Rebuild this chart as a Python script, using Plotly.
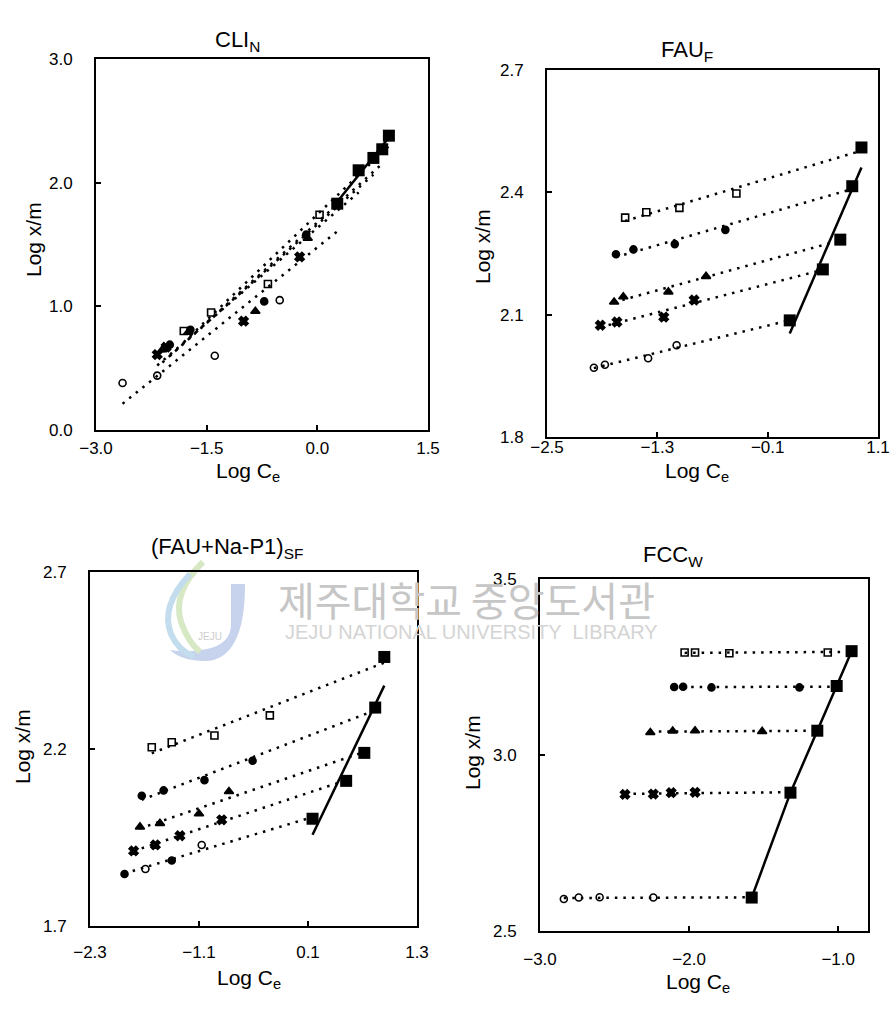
import numpy as np
import plotly.graph_objects as go

# Freundlich isotherms: log x/m versus log Ce for four adsorbents.
# Series order in every panel: open square, filled circle, triangle, cross, open circle.
# The last point of each series (filled square) is listed separately.

# ---- CLI_N ----
cli_logc = [
    [-1.81, -1.44, -0.67, 0.03],
    [-2.00, -1.72, -0.72, -0.15],
    [-2.10, -1.75, -0.84, -0.13],
    [-2.17, -2.05, -1.00, -0.24],
    [-2.64, -2.17, -1.39, -0.51],
]
cli_logxm = [
    [0.80, 0.95, 1.18, 1.74],
    [0.69, 0.81, 1.04, 1.58],
    [0.65, 0.79, 0.96, 1.55],
    [0.61, 0.67, 0.88, 1.40],
    [0.38, 0.44, 0.60, 1.05],
]
cli_end_logc = [0.97, 0.88, 0.76, 0.56, 0.27]
cli_end_logxm = [2.38, 2.27, 2.20, 2.10, 1.83]

# ---- FAU_F ----
fau_logc = [
    [-1.65, -1.42, -1.06, -0.44],
    [-1.75, -1.56, -1.11, -0.56],
    [-1.77, -1.67, -1.18, -0.77],
    [-1.92, -1.74, -1.23, -0.90],
    [-1.99, -1.87, -1.40, -1.09],
]
fau_logxm = [
    [2.338, 2.351, 2.362, 2.397],
    [2.248, 2.260, 2.273, 2.308],
    [2.131, 2.144, 2.156, 2.194],
    [2.074, 2.082, 2.094, 2.136],
    [1.970, 1.977, 1.993, 2.025],
]
fau_end_logc = [0.92, 0.82, 0.69, 0.50, 0.14]
fau_end_logxm = [2.510, 2.415, 2.284, 2.211, 2.086]

# ---- (FAU+Na-P1)_SF ----
sf_logc = [
    [-1.62, -1.40, -0.93, -0.32],
    [-1.73, -1.49, -1.04, -0.51],
    [-1.75, -1.53, -1.10, -0.77],
    [-1.82, -1.58, -1.31, -0.85],
    [-1.92, -1.69, -1.40, -1.07],
]
sf_logxm = [
    [2.205, 2.219, 2.238, 2.295],
    [2.068, 2.083, 2.112, 2.167],
    [1.980, 1.990, 2.017, 2.080],
    [1.912, 1.929, 1.955, 2.000],
    [1.847, 1.861, 1.885, 1.929],
]
sf_end_logc = [0.94, 0.84, 0.72, 0.52, 0.15]
sf_end_logxm = [2.460, 2.317, 2.189, 2.110, 2.003]

# ---- FCC_W ----
fcc_logc = [
    [-2.03, -1.96, -1.73, -1.07],
    [-2.10, -2.04, -1.85, -1.26],
    [-2.26, -2.11, -1.96, -1.51],
    [-2.43, -2.24, -2.12, -1.96],
    [-2.84, -2.74, -2.60, -2.24],
]
fcc_logxm = [
    [3.291, 3.291, 3.289, 3.291],
    [3.193, 3.194, 3.192, 3.192],
    [3.064, 3.068, 3.069, 3.067],
    [2.888, 2.889, 2.893, 2.894],
    [2.591, 2.595, 2.596, 2.595],
]
fcc_end_logc = [-0.91, -1.01, -1.14, -1.32, -1.58]
fcc_end_logxm = [3.295, 3.196, 3.069, 2.893, 2.595]

W, H = 893, 1022
FONT = "Liberation Sans, Arial, sans-serif"
INK = "black"

SYMBOLS = ["square-open", "circle", "triangle-up", "x", "circle-open"]
SIZES = [7, 7, 8, 8, 7]
DOT = "2.5px,6px"


def px(x):
    return x / W


def py(y):
    return 1 - y / H


def path(cmds):
    """Build an SVG path in paper units from (command, pixel points) pairs."""
    out = []
    for cmd, pts in cmds:
        coords = " ".join(f"{px(x):.4f},{py(y):.4f}" for x, y in pts)
        out.append(f"{cmd} {coords}".strip())
    return " ".join(out)


panels = [
    dict(title="CLI<sub>N</sub>", logc=cli_logc, logxm=cli_logxm,
         end_c=cli_end_logc, end_m=cli_end_logxm,
         xr=[-3.0, 1.5], yr=[0.0, 3.0],
         xt=[-3.0, -1.5, 0.0, 1.5], yt=[0.0, 1.0, 2.0, 3.0],
         box=(96, 428, 59, 430), solid="fit",
         title_xy=(237, 41), xlab_xy=(248, 472), ylab_xy=(33, 240), xstand=2),
    dict(title="FAU<sub>F</sub>", logc=fau_logc, logxm=fau_logxm,
         end_c=fau_end_logc, end_m=fau_end_logxm,
         xr=[-2.5, 1.1], yr=[1.8, 2.7],
         xt=[-2.5, -1.3, -0.1, 1.1], yt=[1.8, 2.1, 2.4, 2.7],
         box=(547, 878, 70, 437), solid="fit",
         title_xy=(687, 51), xlab_xy=(697, 472), ylab_xy=(482, 247), xstand=-6),
    dict(title="(FAU+Na-P1)<sub>SF</sub>", logc=sf_logc, logxm=sf_logxm,
         end_c=sf_end_logc, end_m=sf_end_logxm,
         xr=[-2.3, 1.3], yr=[1.7, 2.7],
         xt=[-2.3, -1.1, 0.1, 1.3], yt=[1.7, 2.2, 2.7],
         box=(90, 417, 572, 926), solid="fit",
         title_xy=(227, 548), xlab_xy=(249, 979), ylab_xy=(22, 747), xstand=10),
    dict(title="FCC<sub>W</sub>", logc=fcc_logc, logxm=fcc_logxm,
         end_c=fcc_end_logc, end_m=fcc_end_logxm,
         xr=[-3.0, -0.8], yr=[2.5, 3.5],
         xt=[-3.0, -2.0, -1.0], yt=[2.5, 3.0, 3.5],
         box=(540, 868, 579, 931), solid="connect",
         title_xy=(673, 556), xlab_xy=(698, 983), ylab_xy=(472, 752), xstand=12),
]

fig = go.Figure()
annotations = []
layout_axes = {}

for k, p in enumerate(panels, start=1):
    xa = "x" if k == 1 else f"x{k}"
    ya = "y" if k == 1 else f"y{k}"
    x0, x1, y0, y1 = p["box"]

    # dotted least-squares line for each series, through its end point
    for i in range(5):
        xs = np.array(p["logc"][i] + [p["end_c"][i]])
        ys = np.array(p["logxm"][i] + [p["end_m"][i]])
        slope, icpt = np.polyfit(xs, ys, 1)
        xl = np.array([xs.min(), xs.max()])
        fig.add_trace(go.Scatter(
            x=xl, y=slope * xl + icpt, mode="lines", xaxis=xa, yaxis=ya,
            line=dict(color=INK, width=2.5, dash=DOT), hoverinfo="skip",
            showlegend=False))

    # solid line through the end points
    ec = np.array(p["end_c"])
    em = np.array(p["end_m"])
    if p["solid"] == "fit":
        slope, icpt = np.polyfit(ec, em, 1)
        xl = np.array([ec.min(), ec.max()])
        sx, sy = xl, slope * xl + icpt
    else:
        order = np.argsort(ec)
        sx, sy = ec[order], em[order]
    fig.add_trace(go.Scatter(
        x=sx, y=sy, mode="lines", xaxis=xa, yaxis=ya,
        line=dict(color=INK, width=2.5), showlegend=False))

    # small markers
    for i in range(5):
        sym = SYMBOLS[i]
        if k == 3 and i == 4:
            sym = ["circle", "circle-open", "circle", "circle-open"]
        fig.add_trace(go.Scatter(
            x=p["logc"][i], y=p["logxm"][i], mode="markers", xaxis=xa, yaxis=ya,
            marker=dict(symbol=sym, size=SIZES[i], color=INK,
                        line=dict(color=INK, width=1.6)),
            showlegend=False))

    # end points
    fig.add_trace(go.Scatter(
        x=p["end_c"], y=p["end_m"], mode="markers", xaxis=xa, yaxis=ya,
        marker=dict(symbol="square", size=12, color=INK),
        showlegend=False))

    common = dict(showline=True, mirror=True, linecolor=INK, linewidth=2,
                  showgrid=False, zeroline=False, ticks="inside", ticklen=5,
                  tickwidth=1.5, tickcolor=INK, tickformat=".1f",
                  automargin=False,
                  tickfont=dict(family=FONT, size=17, color=INK))
    layout_axes["xaxis" if k == 1 else f"xaxis{k}"] = dict(
        common, domain=[px(x0), px(x1)], range=p["xr"], tickvals=p["xt"],
        anchor=ya, ticklabelstandoff=p["xstand"])
    layout_axes["yaxis" if k == 1 else f"yaxis{k}"] = dict(
        common, domain=[py(y1), py(y0)], range=p["yr"], tickvals=p["yt"],
        anchor=xa, ticklabelstandoff=18)

    tx, ty = p["title_xy"]
    annotations.append(dict(text=p["title"], x=px(tx), y=py(ty), xref="paper",
                            yref="paper", showarrow=False, xanchor="center",
                            yanchor="middle",
                            font=dict(family=FONT, size=22, color=INK)))
    lx, ly = p["xlab_xy"]
    annotations.append(dict(text="Log C<sub>e</sub>", x=px(lx), y=py(ly),
                            xref="paper", yref="paper", showarrow=False,
                            xanchor="center", yanchor="middle",
                            font=dict(family=FONT, size=21, color=INK)))
    vx, vy = p["ylab_xy"]
    annotations.append(dict(text="Log x/m", x=px(vx), y=py(vy), xref="paper",
                            yref="paper", showarrow=False, textangle=-90,
                            xanchor="center", yanchor="middle",
                            font=dict(family=FONT, size=21, color=INK)))

# library watermark: emblem, name and English line
emblem = [
    dict(type="path", xref="paper", yref="paper", layer="below",
         path=path([("M", [(231, 584)]), ("L", [(245, 584), (245, 628)]),
                    ("Q", [(245, 660), (205, 661)]),
                    ("Q", [(182, 661), (170, 650)]),
                    ("Q", [(190, 653), (207, 649)]),
                    ("Q", [(231, 644), (231, 624)]), ("Z", [])]),
         fillcolor="#c7d3ec", line=dict(width=0)),
    dict(type="path", xref="paper", yref="paper", layer="below",
         path=path([("M", [(203, 562)]), ("Q", [(172, 592), (181, 622)]),
                    ("Q", [(188, 642), (200, 652)])]),
         line=dict(color="#d7e8c4", width=6)),
    dict(type="path", xref="paper", yref="paper", layer="below",
         path=path([("M", [(190, 574)]), ("Q", [(160, 606), (171, 634)]),
                    ("Q", [(178, 650), (194, 657)])]),
         line=dict(color="#c3ddee", width=6)),
]
annotations.append(dict(text="JEJU", x=px(210), y=py(636), xref="paper",
                        yref="paper", showarrow=False, xanchor="center",
                        yanchor="middle",
                        font=dict(family=FONT, size=10, color="#cdcdcd")))
annotations.append(dict(text="제주대학교 중앙도서관", x=px(466), y=py(599),
                        xref="paper", yref="paper", showarrow=False,
                        xanchor="center", yanchor="middle",
                        font=dict(family="Noto Sans CJK KR", size=40,
                                  color="#c6c6c6")))
annotations.append(dict(text="JEJU NATIONAL UNIVERSITY  LIBRARY", x=px(471),
                        y=py(632), xref="paper", yref="paper", showarrow=False,
                        xanchor="center", yanchor="middle",
                        font=dict(family=FONT, size=20, color="#d4d4d4")))

fig.update_layout(
    width=W, height=H, autosize=False,
    margin=dict(l=0, r=0, t=0, b=0, pad=0, autoexpand=False),
    paper_bgcolor="white", plot_bgcolor="rgba(0,0,0,0)",
    shapes=emblem, annotations=annotations, showlegend=False, **layout_axes)

fig.write_html("out.html")
